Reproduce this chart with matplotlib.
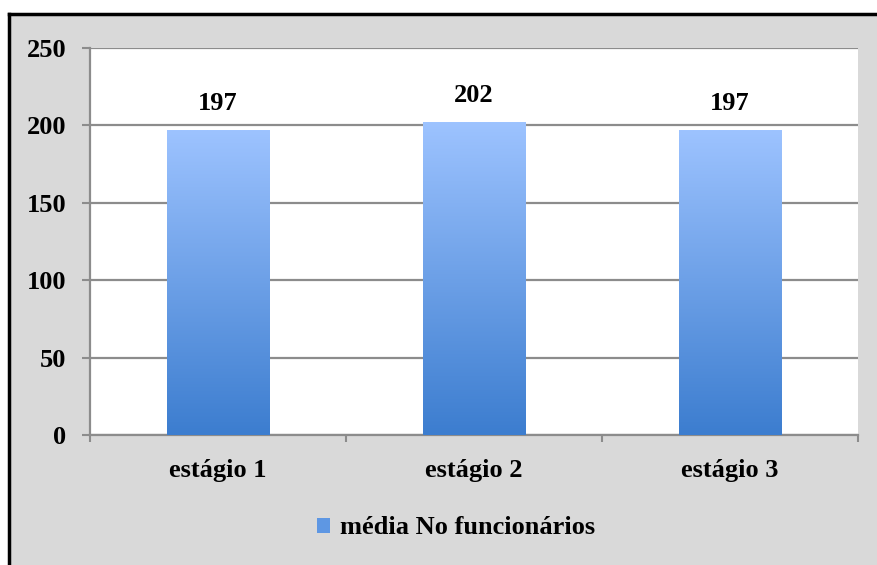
import numpy as np
import matplotlib
matplotlib.use("Agg")
import matplotlib.pyplot as plt
from matplotlib.patches import Rectangle, Patch
from matplotlib.colors import LinearSegmentedColormap

categories = ["estágio 1", "estágio 2", "estágio 3"]
values = [197, 202, 197]
series_name = "média No funcionários"
y_ticks = [0, 50, 100, 150, 200, 250]

plt.rcParams["font.family"] = ["Liberation Serif", "DejaVu Serif"]
plt.rcParams["font.weight"] = "bold"

FS = 19

fig = plt.figure(figsize=(8.78, 5.65), dpi=100)
fig.patch.set_facecolor("white")

# grey chart area with a dark frame on the top and left edges
W, H = 878, 565
fig.patches.append(Rectangle((9 / W, 0), 1, 1 - 14 / H, transform=fig.transFigure,
                             facecolor="#d9d9d9", edgecolor="none", zorder=0))
fig.lines.append(plt.Line2D([9 / W, 1], [1 - 14 / H, 1 - 14 / H], transform=fig.transFigure,
                            color="black", lw=2.5, zorder=1))
fig.lines.append(plt.Line2D([9 / W, 9 / W], [0, 1 - 14 / H], transform=fig.transFigure,
                            color="black", lw=2.5, zorder=1))

ax = fig.add_axes([90 / W, 1 - 435 / H, (858 - 90) / W, (435 - 48) / H])
ax.set_facecolor("white")
ax.set_zorder(2)

x = np.arange(len(categories))
bar_width = 0.4
bars = ax.bar(x, values, width=bar_width, color="none", edgecolor="none", zorder=3)

cmap = LinearSegmentedColormap.from_list("barfill", ["#3c7dcf", "#9dc3ff"])
grad = np.linspace(0, 1, 256).reshape(-1, 1)
for b in bars:
    x0, w, h = b.get_x(), b.get_width(), b.get_height()
    im = ax.imshow(grad, cmap=cmap, origin="lower", aspect="auto",
                   extent=(x0, x0 + w, 0, h), zorder=3)
    im.set_clip_path(b)

for xi, v in zip(x, values):
    ax.annotate(str(v), (xi, v), xytext=(0, 19), textcoords="offset points",
                ha="center", va="center", fontsize=FS, fontweight="bold", color="black")

ax.set_xlim(-0.5, len(categories) - 0.5)
ax.set_ylim(0, 250)
ax.set_yticks(y_ticks)
ax.set_yticklabels([str(t) for t in y_ticks], fontsize=FS, fontweight="bold")
ax.set_xticks(x)
ax.set_xticklabels(categories, fontsize=FS, fontweight="bold")
ax.set_xticks(np.arange(-0.5, len(categories), 1.0), minor=True)

ax.tick_params(axis="y", which="major", length=6, width=1.5, color="#8c8c8c", pad=11)
ax.tick_params(axis="x", which="major", length=0, pad=17)
ax.tick_params(axis="x", which="minor", length=5, width=1.5, color="#8c8c8c")

ax.grid(axis="y", color="#8c8c8c", linewidth=1.6, zorder=1)
ax.set_axisbelow(True)
for side in ["top", "right"]:
    ax.spines[side].set_visible(False)
for side in ["left", "bottom"]:
    ax.spines[side].set_color("#8c8c8c")
    ax.spines[side].set_linewidth(1.6)

handle = Patch(facecolor="#5e97e3", edgecolor="none")
fig.legend([handle], [series_name], loc="center", bbox_to_anchor=(456 / W, 1 - 528 / H),
           frameon=False, prop={"size": FS, "weight": "bold"},
           handlelength=0.5, handleheight=0.5, handletextpad=0.35)

fig.savefig("out.png", dpi=100, facecolor=fig.get_facecolor())
